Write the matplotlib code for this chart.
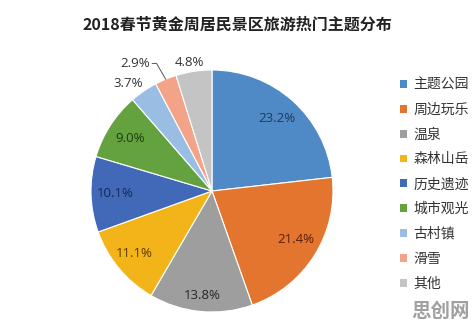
import numpy as np
import matplotlib
matplotlib.use("Agg")
import matplotlib.pyplot as plt
from matplotlib.patches import Patch

plt.rcParams['font.family'] = ['Noto Sans CJK SC', 'DejaVu Sans']

title = "2018春节黄金周居民景区旅游热门主题分布"
categories = ["主题公园", "周边玩乐", "温泉", "森林山岳", "历史遗迹", "城市观光", "古村镇", "滑雪", "其他"]
values = [23.2, 21.4, 13.8, 11.1, 10.1, 9.0, 3.7, 2.9, 4.8]
colors = ["#4f8ac6", "#e4752f", "#9e9e9e", "#f2b418", "#4169b8", "#64a23f", "#99bde3", "#f3a488", "#c4c4c4"]
label_colors = ["#1f3a5c", "#5a1e08", "#262626", "#5a3a00", "#142a55", "#1e3d10", "#333333", "#333333", "#333333"]
# label placement: radial factor and angular offset (deg)
label_r = [0.80, 0.80, 0.87, 0.82, 0.80, 0.80, 1.13, 1.23, 1.075]
label_off = [0, 2, 0, -1, 0, 0, 3.5, 8.5, 1.3]

W, H = 477, 325
fig = plt.figure(figsize=(W / 100, H / 100), dpi=100)
cx, cy, r = 212, 191, 121
ax = fig.add_axes([(cx - r) / W, (H - cy - r) / H, 2 * r / W, 2 * r / H])

wedges, _ = ax.pie(values, colors=colors, startangle=90, counterclock=False,
                   radius=1, wedgeprops=dict(edgecolor='white', linewidth=0.8))
ax.set_xlim(-1, 1)
ax.set_ylim(-1, 1)
ax.set_aspect('equal')
ax.axis('off')

for i, w in enumerate(wedges):
    mid = np.deg2rad((w.theta1 + w.theta2) / 2 + label_off[i])
    x, y = label_r[i] * np.cos(mid), label_r[i] * np.sin(mid)
    ax.text(x, y, f"{values[i]:.1f}%", ha='center', va='center', fontsize=9.5,
            color=label_colors[i], family=['Open Sans', 'DejaVu Sans'], clip_on=False)
    if i == 7:
        m0 = np.deg2rad((w.theta1 + w.theta2) / 2)
        ex, ey = np.cos(m0), np.sin(m0)
        ax.plot([x + 0.14, x + 0.175, ex], [y, y, ey], color='#555555', lw=0.7, clip_on=False)

fig.text(0.497, 1 - 25 / H, title, ha='center', va='center', fontsize=11.5, fontweight='bold', color='#222222')

handles = [Patch(facecolor=c, edgecolor='none') for c in colors]
fig.legend(handles, categories, loc='upper left', bbox_to_anchor=(393 / W, 1 - 71 / H),
           frameon=False, fontsize=10, handlelength=0.5, handleheight=0.5,
           handletextpad=0.45, labelspacing=0.78, borderpad=0, labelcolor='#333333')

fig.text(441 / W, 1 - 311 / H, "思创网", ha='center', va='center', fontsize=14,
         fontweight='heavy', color='#a0a0a0')

fig.savefig("out.png", dpi=100)
